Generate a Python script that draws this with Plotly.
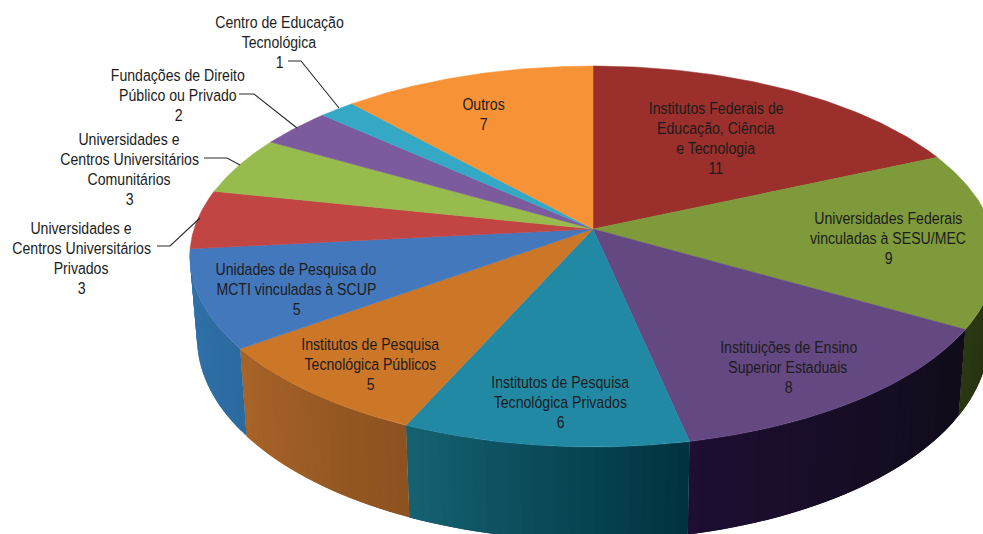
import numpy as np
import plotly.graph_objects as go

categories = [
    "Institutos Federais de<br>Educação, Ciência<br>e Tecnologia",
    "Universidades Federais<br>vinculadas à SESU/MEC",
    "Instituições de Ensino<br>Superior Estaduais",
    "Institutos de Pesquisa<br>Tecnológica Privados",
    "Institutos de Pesquisa<br>Tecnológica Públicos",
    "Unidades de Pesquisa do<br>MCTI vinculadas à SCUP",
    "Universidades e<br>Centros Universitários<br>Privados",
    "Universidades e<br>Centros Universitários<br>Comunitários",
    "Fundações de Direito<br>Público ou Privado",
    "Centro de Educação<br>Tecnológica",
    "Outros",
]
values = [11, 9, 8, 6, 5, 5, 3, 3, 2, 1, 7]

top_colors = ["#9A2F2B", "#7E9A3A", "#644882", "#2289A5", "#CC7628", "#4478BD",
              "#C04543", "#98BB4E", "#7C5A9E", "#35A8C5", "#F79236"]
# wall colours at the clockwise start and end of each slice (None: wall hidden)
wall_start = [None, "#243010", "#100C18", "#00323E", "#8C5220", "#2C6BA0",
              None, None, None, None, None]
wall_end = [None, "#2B3813", "#1E0F33", "#166373", "#A96428", "#3073AC",
            None, None, None, None, None]

label_x = [716, 888, 788, 560, 370, 296, 81, 129, 178, 279, 483]
label_y = [138, 238, 367, 402, 364, 289, 258, 169, 95, 42.5, 114]

leaders = [
    [(157, 246), (170, 246), (200, 218)],
    [(204, 158), (227, 158), (240, 165)],
    [(239, 94), (254, 94), (297, 128)],
    [(288, 61), (301, 61), (339, 108)],
]

# perspective projection of the pie disc, in page pixels
CX, CY, R, K, P, H, TAPER = 593, 229, 399, 186.5, 0.1444, 80, 0.018


def project(clock_deg, drop=0.0):
    t = np.radians(90 - np.asarray(clock_deg, dtype=float))
    s = 1 / (1 + P * np.sin(t))
    return (CX + R * np.cos(t) * s * (1 - TAPER * drop),
            CY + (-K * np.sin(t) + drop * H) * s)


def rgb(c):
    return np.array([int(c[i:i + 2], 16) for i in (1, 3, 5)], dtype=float)


fig = go.Figure()


def poly(x, y, color, lw=0.0):
    fig.add_trace(go.Scatter(x=x, y=y, mode="lines", fill="toself", fillcolor=color,
                             line=dict(color=color, width=lw), hoverinfo="skip",
                             showlegend=False))


total = sum(values)
edges = np.cumsum([0] + values) * 360 / total

# side walls: each strip runs under the next one so no seams show
for i in range(len(values)):
    if wall_start[i] is None:
        continue
    a0, a1 = edges[i], edges[i + 1]
    if i == 1:
        a0 = 98.0  # wall disappears at the right-hand silhouette
    n = max(2, int((a1 - a0) / 1.5))
    step = (a1 - a0) / n
    c0, c1 = rgb(wall_start[i]), rgb(wall_end[i])
    for j in range(n):
        f = (j + 0.5) / n
        c = c0 + (c1 - c0) * f
        lo = a0 + j * step
        hi = min(a1, lo + 2 * step)
        arc = np.linspace(lo, hi, 4)
        xt, yt = project(arc)
        xb, yb = project(arc[::-1], 1.0)
        poly(np.r_[xt, xb, xt[0]], np.r_[yt, yb, yt[0]],
             "rgb(%d,%d,%d)" % tuple(c))

# top surface
for i in range(len(values)):
    arc = np.linspace(edges[i], edges[i + 1], 80)
    x, y = project(arc)
    poly(np.r_[CX, x, CX], np.r_[CY, y, CY], top_colors[i], 0.5)

LINE_H = 20
annotations = []
for name, v, lx, ly in zip(categories, values, label_x, label_y):
    lines = name.split("<br>") + [str(v)]
    for k, line in enumerate(lines):
        annotations.append(dict(
            x=lx, y=ly + (k - (len(lines) - 1) / 2) * LINE_H, xref="x", yref="y",
            showarrow=False, xanchor="center", yanchor="middle",
            text=line,
            font=dict(family="Liberation Sans, Arial, sans-serif", size=17, color="#1C1C1C"),
        ))

shapes = [dict(type="path", xref="x", yref="y",
               path="M" + " L".join(f"{a},{b}" for a, b in pts),
               line=dict(color="#2A2A2A", width=1.1))
          for pts in leaders]

fig.update_layout(
    width=983, height=534, margin=dict(l=0, r=0, t=0, b=0),
    paper_bgcolor="white", plot_bgcolor="white", showlegend=False,
    xaxis=dict(range=[0, 983], visible=False, fixedrange=True),
    yaxis=dict(range=[534, 0], visible=False, fixedrange=True),
    annotations=annotations, shapes=shapes,
)
post = """
document.body.style.margin='0';
document.documentElement.style.overflow='hidden';
var st=document.createElement('style');
st.textContent='.annotation-text{transform-box:fill-box;transform-origin:center;transform:scaleX(.83);}';
document.head.appendChild(st);
"""
fig.write_html("out.html", config={"displayModeBar": False}, post_script=post)
